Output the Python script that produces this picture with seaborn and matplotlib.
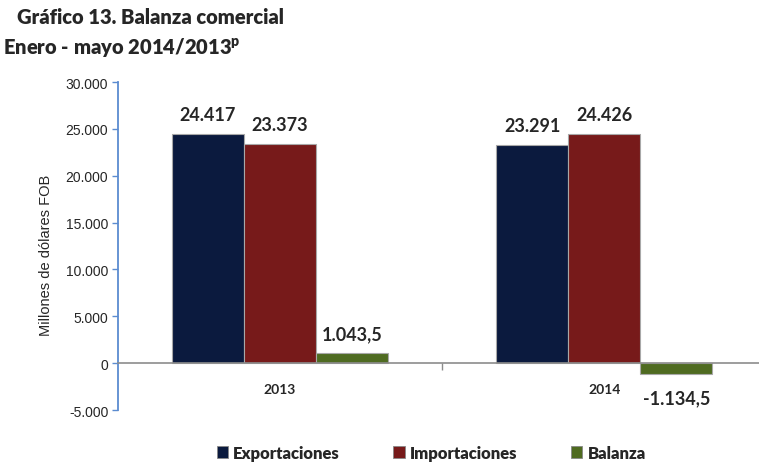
import matplotlib
matplotlib.use('Agg')
import matplotlib.pyplot as plt
import seaborn as sns
import pandas as pd
from matplotlib.patches import Patch
from matplotlib.ticker import FuncFormatter

# data
years = ['2013', '2014']
exportaciones = [24417, 23291]
importaciones = [23373, 24426]
balanza = [1043.5, -1134.5]
series = ['Exportaciones', 'Importaciones', 'Balanza']
colors = ['#0b1a3e', '#771a1a', '#4f6b21']

df = pd.DataFrame({
    'year': years * 3,
    'serie': [s for s in series for _ in years],
    'valor': exportaciones + importaciones + balanza,
})

sns.set_style('white')
plt.rcParams['font.family'] = ['Liberation Sans', 'DejaVu Sans']

fig = plt.figure(figsize=(7.59, 4.64), dpi=100)
ax = fig.add_axes([0.1555, 0.1142, 0.854, 0.7069])

sns.barplot(data=df, x='year', y='valor', hue='serie', hue_order=series,
            palette=colors, saturation=1, width=0.667, gap=0, ax=ax, legend=False,
            edgecolor='#a8a8a8', linewidth=0.8)

ax.set_ylim(-5000, 30000)
ax.set_xlim(-0.5, 1.5)
ax.set_yticks(range(-5000, 30001, 5000))
ax.yaxis.set_major_formatter(FuncFormatter(lambda v, p: f'{int(v):,}'.replace(',', '.')))
ax.tick_params(axis='y', direction='out', length=4, width=1, color='#5b8bd0',
               labelsize=10, pad=3, left=True)

# x axis on the zero line
ax.spines['bottom'].set_position(('data', 0))
ax.spines['bottom'].set_color('#8c8c8c')
ax.spines['bottom'].set_linewidth(1.2)
ax.spines['left'].set_color('#5b8bd0')
ax.spines['left'].set_linewidth(1.3)
ax.spines['top'].set_visible(False)
ax.spines['right'].set_visible(False)
ax.set_xticks([0.5])
ax.set_xticklabels([''])
ax.tick_params(axis='x', direction='out', length=5, width=1, color='#8c8c8c', bottom=True)
ax.set_xticks([0, 1], minor=True)
ax.set_xticklabels(years, minor=True, fontweight='bold', fontsize=10, family='Lato')
ax.tick_params(axis='x', which='minor', length=0, pad=14)
ax.set_xlabel('')
ax.set_ylabel('Millones de dólares FOB', fontsize=10.5, labelpad=12)
ax.yaxis.set_label_coords(-0.1, 0.475)

# value labels
def fmt(v, dec):
    s = f'{v:,.{dec}f}'
    return s.replace(',', 'X').replace('.', ',').replace('X', '.')

for i, cont in enumerate(ax.containers):
    for bar, v in zip(cont, df[df['serie'] == series[i]]['valor']):
        x = bar.get_x() + bar.get_width() / 2
        txt = fmt(v, 1 if series[i] == 'Balanza' else 0)
        if v >= 0:
            ax.annotate(txt, (x, v), xytext=(0, 8), textcoords='offset points',
                        ha='center', va='bottom', fontsize=13, fontweight='bold', family='Lato')
        else:
            ax.annotate(txt, (x, v), xytext=(0, -11), textcoords='offset points',
                        ha='center', va='top', fontsize=13, fontweight='bold', family='Lato')

fig.text(0.022, 0.962, 'Gráfico 13. Balanza comercial', fontsize=14.5, fontweight='heavy',
         family='Lato', va='center')
fig.text(0.004, 0.897, 'Enero - mayo 2014/2013$^{\\mathregular{p}}$', fontsize=14.5,
         fontweight='heavy', family='Lato', va='center')

handles = [Patch(facecolor=c, edgecolor='#888888', linewidth=0.6) for c in colors]
fig.legend(handles, series, loc='center', bbox_to_anchor=(0.568, 0.022), ncol=3,
           frameon=False, handlelength=0.7, handleheight=0.7, handletextpad=0.3,
           columnspacing=3.2, prop={'family': 'Lato', 'weight': 'heavy', 'size': 12})

fig.savefig('out.png', dpi=100)
